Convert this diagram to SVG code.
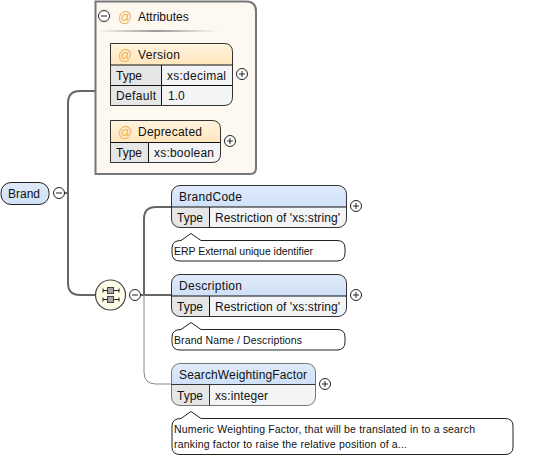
<svg xmlns="http://www.w3.org/2000/svg" width="538" height="458" viewBox="0 0 538 458">
<defs>
<linearGradient id="rule"><stop offset="0" stop-color="#fdf8f0"/><stop offset=".5" stop-color="#999"/><stop offset="1" stop-color="#fdf8f0"/></linearGradient>
<linearGradient id="attrHead" x1="0" y1="0" x2="0" y2="1"><stop offset="0" stop-color="#fff4df"/><stop offset="1" stop-color="#ffe6bc"/></linearGradient>
<linearGradient id="elHead" x1="0" y1="0" x2="0" y2="1"><stop offset="0" stop-color="#e0ebfa"/><stop offset="1" stop-color="#cfe0f7"/></linearGradient>
<g id="plus"><circle r="5.5" fill="#fff" stroke="#222" stroke-width="1"/><path d="M-3 0H3M0-3V3" stroke="#222" stroke-width="1" fill="none"/></g>
<g id="minus"><circle r="5.5" fill="#fff" stroke="#222" stroke-width="1"/><path d="M-3 0H3" stroke="#222" stroke-width="1" fill="none"/></g>
</defs>
<style>
text{font-family:"Liberation Sans",Arial,sans-serif;font-size:12px;fill:#111}
.at{fill:#f0b050;font-size:14px}
.n{font-size:10.5px}
.o{fill:none;stroke:#333;stroke-width:1}
.k{fill:#e6e6e6}
.v{fill:#f3f4f6}
.c{fill:none;stroke:#666;stroke-width:2}
.t{fill:none;stroke:#888;stroke-width:1}
.note{fill:#fff;stroke:#222;stroke-width:1}
</style>
<g id="connectors">
<path class="c" d="M64 193H68"/>
<path class="c" d="M95 91H80Q68 91 68 103V283Q68 295 80 295H96"/>
<path class="c" d="M140 295H171"/>
<path class="c" d="M171 207H156Q144 207 144 219V295"/>
<path class="t" d="M144 295V372Q144 384 156 384H171"/>
</g>
<g id="attributes">
<path d="M95.500 1.500H246Q256 1.500 256 11V168Q256 174 250 174H95.500Z" fill="#fdf8f0" stroke="#777" stroke-width="2"/>
<use href="#minus" x="104" y="16"/>
<text class="at" x="118" y="22">@</text>
<text x="138" y="21">Attributes</text>
<rect x="97" y="30" width="120" height="2" fill="url(#rule)"/>
</g>
<g id="version">
<path d="M110.500 65V43.500H224Q232.500 43.500 232.500 52V65Z" fill="url(#attrHead)"/>
<rect class="k" x="110.500" y="65" width="51" height="40.500"/>
<path class="v" d="M161.500 65H232.500V97Q232.500 105.500 224 105.500H161.500Z"/>
<path class="o" d="M110.500 43.500H224Q232.500 43.500 232.500 52V97Q232.500 105.500 224 105.500H110.500Z"/>
<path d="M110.500 65H232.500M110.500 85.500H232.500M161.500 65V105.500" stroke="#111" fill="none"/>
<text class="at" x="118" y="60">@</text>
<text x="138" y="59" textLength="42">Version</text>
<text x="116" y="80">Type</text><text x="167" y="80" textLength="59">xs:decimal</text>
<text x="116" y="100" textLength="40">Default</text><text x="168" y="100">1.0</text>
<use href="#plus" x="242" y="74"/>
</g>
<g id="deprecated">
<path d="M110.500 142.500V120.500H212Q220.500 120.500 220.500 129V142.500Z" fill="url(#attrHead)"/>
<rect class="k" x="110.500" y="142.500" width="38" height="20"/>
<path class="v" d="M148.500 142.500H220.500V154Q220.500 162.500 212 162.500H148.500Z"/>
<path class="o" d="M110.500 120.500H212Q220.500 120.500 220.500 129V154Q220.500 162.500 212 162.500H110.500Z"/>
<path d="M110.500 142.500H220.500M148.500 142.500V162.500" stroke="#111" fill="none"/>
<text class="at" x="118" y="137">@</text>
<text x="138" y="136" textLength="64">Deprecated</text>
<text x="116" y="157">Type</text><text x="154" y="157" textLength="60">xs:boolean</text>
<use href="#plus" x="230" y="141"/>
</g>
<g id="brand">
<rect x="1" y="182.500" width="48" height="22" rx="10" fill="url(#elHead)" stroke="#222"/>
<text x="8" y="198">Brand</text>
<use href="#minus" x="59" y="193"/>
</g>
<g id="sequence">
<circle cx="110.500" cy="295" r="15" fill="#fdfde8" stroke="#444" stroke-width="1.200"/>
<path d="M103 290.500H119M103 299.500H119" stroke="#222" fill="none"/>
<path d="M103 288.500V292.500M119 288.500V292.500M103 297.500V301.500M119 297.500V301.500" stroke="#222" fill="none"/>
<rect x="107.500" y="287.500" width="6" height="6" fill="#aaa" stroke="#444"/>
<rect x="107.500" y="296.500" width="6" height="6" fill="#aaa" stroke="#444"/>
<use href="#minus" x="135" y="295"/>
</g>
<g id="brandcode">
<path d="M171.500 207V194Q171.500 185.500 180 185.500H338Q346.500 185.500 346.500 194V207Z" fill="url(#elHead)"/>
<path class="k" d="M171.500 207H209.500V227.500H180Q171.500 227.500 171.500 219Z"/>
<path class="v" d="M209.500 207H346.500V219Q346.500 227.500 338 227.500H209.500Z"/>
<rect class="o" x="171.500" y="185.500" width="175" height="42" rx="8.500"/>
<path d="M171.500 207H346.500M209.500 207V227.500" stroke="#111" fill="none"/>
<text x="179" y="201" textLength="63">BrandCode</text>
<text x="177" y="222">Type</text><text x="215" y="222" textLength="125">Restriction of 'xs:string'</text>
<use href="#plus" x="356" y="206"/>
<path class="note" d="M181 240.500L191 233.500L201 240.500H337Q345 240.500 345 248V253Q345 261 337 261H180Q172 261 172 253V248Q172 240.500 181 240.500Z"/>
<text class="n" x="174" y="255" textLength="139">ERP External unique identifier</text>
</g>
<g id="description">
<path d="M171.500 296V283Q171.500 274.500 180 274.500H338Q346.500 274.500 346.500 283V296Z" fill="url(#elHead)"/>
<path class="k" d="M171.500 296H209.500V316.500H180Q171.500 316.500 171.500 308Z"/>
<path class="v" d="M209.500 296H346.500V308Q346.500 316.500 338 316.500H209.500Z"/>
<rect class="o" x="171.500" y="274.500" width="175" height="42" rx="8.500"/>
<path d="M171.500 296H346.500M209.500 296V316.500" stroke="#111" fill="none"/>
<text x="179" y="290" textLength="63">Description</text>
<text x="177" y="311">Type</text><text x="215" y="311" textLength="125">Restriction of 'xs:string'</text>
<use href="#plus" x="356" y="295"/>
<path class="note" d="M181 329.500L191 322.500L201 329.500H337Q345 329.500 345 337V342Q345 350 337 350H180Q172 350 172 342V337Q172 329.500 181 329.500Z"/>
<text class="n" x="174" y="344" textLength="128">Brand Name / Descriptions</text>
</g>
<g id="searchweightingfactor">
<path d="M171.500 384.500V372Q171.500 363.500 180 363.500H307Q315.500 363.500 315.500 372V384.500Z" fill="url(#elHead)"/>
<path class="k" d="M171.500 384.500H209.500V405.500H180Q171.500 405.500 171.500 397Z"/>
<path class="v" d="M209.500 384.500H315.500V397Q315.500 405.500 307 405.500H209.500Z"/>
<rect x="171.500" y="363.500" width="144" height="42" rx="8.500" fill="none" stroke="#777"/>
<path d="M171.500 384.500H315.500M209.500 384.500V405.500" stroke="#333" fill="none"/>
<text x="179" y="379" textLength="128">SearchWeightingFactor</text>
<text x="177" y="400">Type</text><text x="215" y="400" textLength="53">xs:integer</text>
<use href="#plus" x="325" y="384"/>
<path class="note" d="M181 418.500L191 411.500L201 418.500H505Q513 418.500 513 426V447Q513 454.500 505 454.500H180Q172 454.500 172 447V426Q172 418.500 181 418.500Z"/>
<text class="n" x="174" y="433" textLength="301">Numeric Weighting Factor, that will be translated in to a search</text>
<text class="n" x="174" y="448" textLength="233">ranking factor to raise the relative position of a...</text>
</g>
</svg>
